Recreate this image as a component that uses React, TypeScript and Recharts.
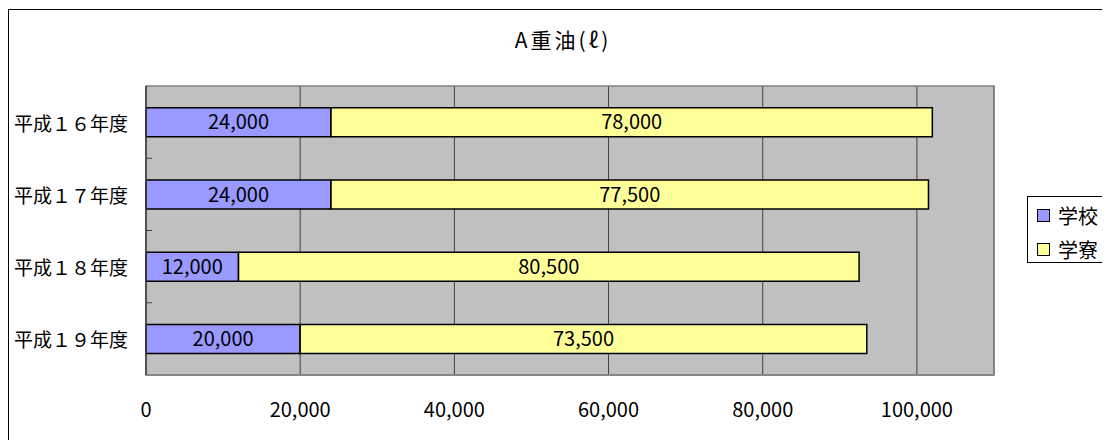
import React from 'react'
import {
  BarChart,
  Bar,
  XAxis,
  YAxis,
  CartesianGrid,
  ReferenceArea,
  LabelList,
} from 'recharts'

// ─── data ────────────────────
const categories = ['平成１６年度', '平成１７年度', '平成１８年度', '平成１９年度']
const schoolValues = [24000, 24000, 12000, 20000]
const dormValues = [78000, 77500, 80500, 73500]
const xTicks = [0, 20000, 40000, 60000, 80000, 100000]
const xMax = 110000
const seriesNames = ['学校', '学寮']

const FONT = '"Noto Sans CJK JP", "Noto Sans", sans-serif'
const SCHOOL = '#9999FF'
const DORM = '#FFFF99'

const data = categories.map((name, i) => ({
  name,
  school: schoolValues[i],
  dorm: dormValues[i],
}))

const fmt = (v: any) => Number(v).toLocaleString('en-US')

// plot height / categories / 2 -> boundary tick offset
const PLOT_H = 289
const HALF_BAND = PLOT_H / categories.length / 2

const CategoryTick = (props: any) => {
  const { x, y, payload, index } = props
  return (
    <g>
      <text
        x={x}
        y={y}
        textAnchor="end"
        dominantBaseline="central"
        fontSize={19}
        fontFamily={FONT}
        fill="#000"
      >
        {payload.value}
      </text>
      {index < categories.length - 1 && (
        <line
          x1={x + 18}
          x2={x + 24}
          y1={y + HALF_BAND}
          y2={y + HALF_BAND}
          stroke="#404040"
          strokeWidth={1}
        />
      )}
    </g>
  )
}

export default function App() {
  return (
    <div
      style={{
        position: 'relative',
        top: 1,
        width: 1102,
        height: 432,
        boxSizing: 'border-box',
        borderLeft: '1px solid #000',
        borderTop: '1px solid #000',
        fontFamily: FONT,
        background: '#fff',
      }}
    >
      <style>{'html,body{overflow:hidden}'}</style>
      <div
        style={{
          position: 'absolute',
          left: 404,
          top: 16,
          width: 300,
          textAlign: 'center',
          fontSize: 21,
          letterSpacing: 3,
          lineHeight: '26px',
          color: '#000',
        }}
      >
        A重油(ℓ)
      </div>

      <BarChart
        width={1101}
        height={431}
        data={data}
        layout="vertical"
        barCategoryGap="30%"
        margin={{ top: 76, right: 116, bottom: 6, left: 0 }}
      >
        <CartesianGrid
          horizontal={false}
          stroke="#404040"
          fill="#C0C0C0"
          fillOpacity={1}
        />
        <ReferenceArea
          x1={0}
          x2={xMax}
          fill="none"
          stroke="#808080"
          strokeWidth={1.5}
          ifOverflow="visible"
        />
        <XAxis
          type="number"
          domain={[0, xMax]}
          ticks={xTicks}
          tickFormatter={fmt}
          tickLine={false}
          axisLine={{ stroke: '#808080', strokeWidth: 1.5 }}
          tickMargin={22}
          height={60}
          tick={{ fontSize: 20, fill: '#000', fontFamily: FONT }}
        />
        <YAxis
          type="category"
          dataKey="name"
          width={137}
          tickSize={6}
          tickMargin={12}
          tickLine={false}
          axisLine={{ stroke: '#404040', strokeWidth: 1.5 }}
          tick={<CategoryTick />}
        />
        <Bar
          dataKey="school"
          name={seriesNames[0]}
          stackId="a"
          fill={SCHOOL}
          stroke="#000"
          strokeWidth={1.5}
          isAnimationActive={false}
        >
          <LabelList
            dataKey="school"
            position="center"
            formatter={fmt}
            fill="#000"
            fontSize={20}
            fontFamily={FONT}
          />
        </Bar>
        <Bar
          dataKey="dorm"
          name={seriesNames[1]}
          stackId="a"
          fill={DORM}
          stroke="#000"
          strokeWidth={1.5}
          isAnimationActive={false}
        >
          <LabelList
            dataKey="dorm"
            position="center"
            formatter={fmt}
            fill="#000"
            fontSize={20}
            fontFamily={FONT}
          />
        </Bar>
      </BarChart>

      <div
        style={{
          position: 'absolute',
          left: 1018,
          top: 186,
          width: 120,
          height: 67,
          boxSizing: 'border-box',
          border: '1px solid #000',
          paddingTop: 1,
        }}
      >
        {seriesNames.map((n, i) => (
          <div
            key={n}
            style={{
              display: 'flex',
              alignItems: 'center',
              height: 34,
              paddingLeft: 9,
              fontSize: 20,
              color: '#000',
            }}
          >
            <span
              style={{
                width: 13,
                height: 13,
                boxSizing: 'border-box',
                border: '1.5px solid #000',
                background: i === 0 ? SCHOOL : DORM,
                marginRight: 8,
                display: 'inline-block',
              }}
            />
            {n}
          </div>
        ))}
      </div>
    </div>
  )
}
